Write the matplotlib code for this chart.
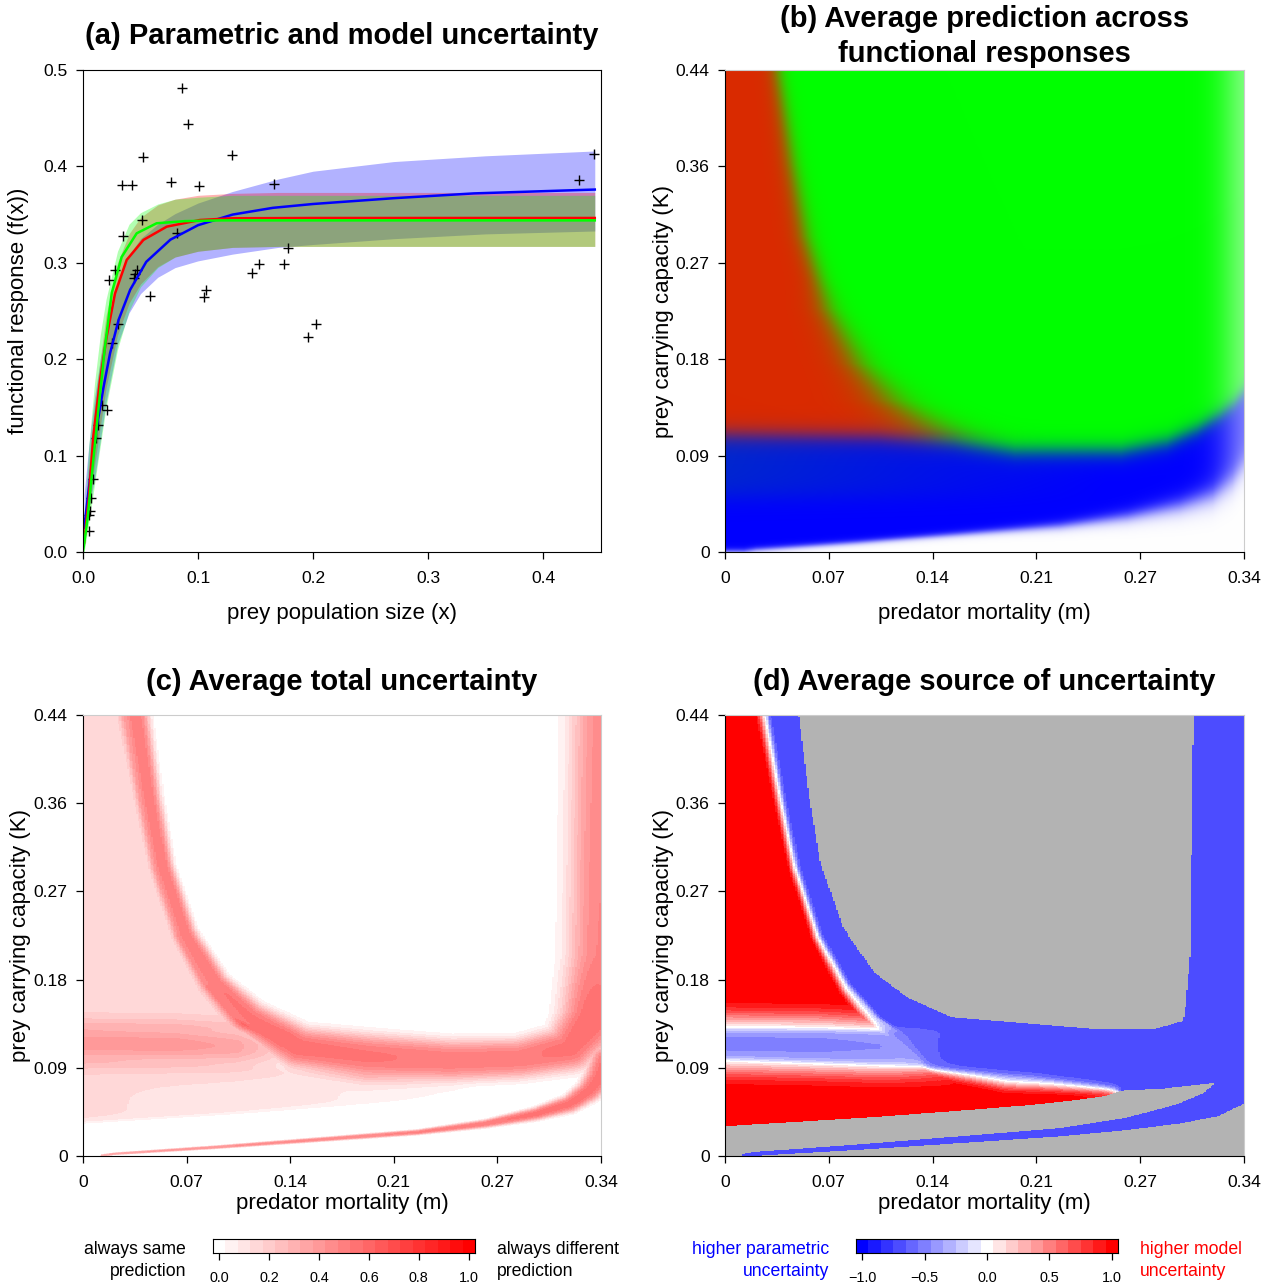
import numpy as np
import matplotlib
matplotlib.use('Agg')
import matplotlib.pyplot as plt
from matplotlib.colors import ListedColormap, BoundaryNorm

plt.rcParams['font.family'] = ['Liberation Sans', 'DejaVu Sans']

W, H = 1270, 1288

# ---------------- panel (a): data ----------------
obs_x = [0.0865, 0.0917, 0.0525, 0.1294, 0.0343, 0.0426, 0.0762, 0.1006, 0.1658, 0.4316,
         0.4446, 0.0512, 0.0814, 0.0347, 0.0278, 0.0227, 0.0467, 0.0455, 0.0445, 0.0584,
         0.0302, 0.0254, 0.0165, 0.0205, 0.0128, 0.0110, 0.0089, 0.0069, 0.0062, 0.0055,
         0.0055, 0.1466, 0.1528, 0.1744, 0.1785, 0.1054, 0.1071, 0.1957, 0.2029]
obs_y = [0.481, 0.444, 0.410, 0.412, 0.381, 0.381, 0.384, 0.380, 0.382, 0.386,
         0.413, 0.344, 0.331, 0.328, 0.293, 0.282, 0.293, 0.288, 0.284, 0.266,
         0.236, 0.217, 0.1526, 0.1474, 0.1316, 0.118, 0.0759, 0.0563, 0.0426, 0.0385,
         0.0222, 0.2896, 0.2989, 0.2989, 0.3156, 0.2644, 0.2722, 0.223, 0.236]

blue_x = [0.001, 0.004, 0.008, 0.012, 0.018, 0.0235, 0.031, 0.041, 0.055, 0.076, 0.10,
          0.13, 0.165, 0.2, 0.27, 0.34, 0.445]
blue_y = [0.025, 0.055, 0.095, 0.13, 0.172, 0.206, 0.241, 0.272, 0.301, 0.324, 0.339,
          0.35, 0.357, 0.361, 0.367, 0.372, 0.376]
red_x = [0.001, 0.005, 0.009, 0.0148, 0.0206, 0.0278, 0.038, 0.0525, 0.0728, 0.1017, 0.13, 0.2, 0.445]
red_y = [0.01, 0.055, 0.12, 0.178, 0.2234, 0.268, 0.303, 0.3237, 0.3375, 0.3444, 0.3462, 0.3465, 0.3465]
green_x = [0.0, 0.004, 0.0075, 0.0133, 0.0191, 0.025, 0.0336, 0.0467, 0.064, 0.0883, 0.12, 0.445]
green_y = [0.0, 0.035, 0.078, 0.147, 0.213, 0.2687, 0.306, 0.3306, 0.341, 0.3432, 0.344, 0.344]

band_x = [0.001, 0.005, 0.01, 0.015, 0.02, 0.03, 0.04, 0.05, 0.065, 0.08, 0.1, 0.13, 0.17,
          0.2, 0.27, 0.35, 0.445]
blue_lo = [0.015, 0.045, 0.075, 0.115, 0.155, 0.215, 0.248, 0.268, 0.285, 0.295, 0.302,
           0.309, 0.316, 0.319, 0.325, 0.33, 0.333]
blue_hi = [0.06, 0.11, 0.16, 0.2, 0.232, 0.28, 0.308, 0.325, 0.34, 0.351, 0.362, 0.374,
           0.387, 0.395, 0.405, 0.411, 0.416]
red_lo = [0.005, 0.04, 0.09, 0.13, 0.17, 0.225, 0.258, 0.278, 0.296, 0.306, 0.312, 0.316,
          0.317, 0.317, 0.317, 0.317, 0.317]
red_hi = [0.02, 0.09, 0.15, 0.2, 0.245, 0.3, 0.33, 0.347, 0.36, 0.366, 0.37, 0.372, 0.373,
          0.373, 0.373, 0.373, 0.373]
green_lo = [0.0, 0.03, 0.07, 0.11, 0.15, 0.21, 0.25, 0.275, 0.295, 0.306, 0.312, 0.316,
            0.317, 0.317, 0.317, 0.317, 0.317]
green_hi = [0.03, 0.11, 0.175, 0.225, 0.262, 0.312, 0.34, 0.352, 0.361, 0.366, 0.368, 0.37,
            0.37, 0.37, 0.37, 0.37, 0.37]

# ---------------- panels (b)-(d): structures ----------------
# main uncertainty ridge (left branch, bottom, right edge)
c1_m = [0.034, 0.0433, 0.052, 0.0667, 0.0867, 0.109, 0.142, 0.187, 0.242, 0.287, 0.32, 0.336, 0.344, 0.346]
c1_K = [0.44, 0.355, 0.288, 0.222, 0.172, 0.138, 0.108, 0.099, 0.095, 0.097, 0.107, 0.138, 0.2, 0.44]
c1_w = [0.026, 0.022, 0.02, 0.021, 0.026, 0.035, 0.045, 0.05, 0.046, 0.044, 0.05, 0.065, 0.074, 0.074]
c1_a = [0.42, 0.42, 0.42, 0.42, 0.43, 0.44, 0.45, 0.44, 0.42, 0.42, 0.45, 0.47, 0.40, 0.38]
# horizontal ridge at low mortality
h_m = [0.0, 0.06, 0.10, 0.14]
h_K = [0.112, 0.111, 0.109, 0.106]
h_w = [0.048, 0.048, 0.048, 0.048]
h_a = [0.30, 0.30, 0.26, 0.10]
# lower thin ridge
c2_m = [0.012, 0.02, 0.0867, 0.153, 0.22, 0.264, 0.298, 0.32, 0.333, 0.34, 0.345]
c2_K = [0.0, 0.0017, 0.0083, 0.0157, 0.0233, 0.0317, 0.0417, 0.0517, 0.065, 0.078, 0.095]
c2_w = [0.003, 0.003, 0.004, 0.005, 0.006, 0.009, 0.014, 0.019, 0.024, 0.03, 0.035]
c2_a = [0.25, 0.3, 0.35, 0.38, 0.4, 0.42, 0.45, 0.45, 0.45, 0.45, 0.45]
# model-uncertainty plateaus
m_up_level = 0.15
m_up_floor = 0.126
m_mid_level = 0.05
kl_m = [0.0, 0.1, 0.2, 0.25, 0.3]
kl_K = [0.033, 0.042, 0.053, 0.06, 0.068]
ku_m = [0.0, 0.1, 0.2, 0.26]
ku_K = [0.096, 0.09, 0.079, 0.068]
al_m = [0.0, 0.08, 0.16, 0.21, 0.245, 0.26]
al_v = [0.15, 0.13, 0.1, 0.07, 0.03, 0.0]
# panel (b) blue band top
kh_m = [0.0, 0.1, 0.15, 0.19, 0.26, 0.29, 0.31, 0.325, 0.334, 0.34]
kh_K = [0.107, 0.105, 0.1, 0.092, 0.092, 0.1, 0.112, 0.125, 0.135, 0.145]
rg_K = [0.1, 0.13, 0.17, 0.25, 0.44]
rg_e = [0.014, 0.01, 0.007, 0.004, 0.003]

m_ticks = ['0', '0.07', '0.14', '0.21', '0.27', '0.34']
K_ticks = ['0', '0.09', '0.18', '0.27', '0.36', '0.44']

# ---------------- build the fields ----------------
mm = np.linspace(0, 0.34, 341)
kk = np.linspace(0, 0.44, 441)
M, K = np.meshgrid(mm, kk)
U, V = M / 0.34, K / 0.44


def sig(x):
    return 0.5 * (1 + np.tanh(x / 2))


def ridge(pm, pK, pw, pa, p=3):
    pu = np.asarray(pm) / 0.34
    pv = np.asarray(pK) / 0.44
    out = np.zeros_like(U)
    for i in range(len(pu) - 1):
        du, dv = pu[i + 1] - pu[i], pv[i + 1] - pv[i]
        t = np.clip(((U - pu[i]) * du + (V - pv[i]) * dv) / (du * du + dv * dv), 0, 1)
        d = np.hypot(U - pu[i] - t * du, V - pv[i] - t * dv)
        w = pw[i] + t * (pw[i + 1] - pw[i])
        a = pa[i] + t * (pa[i + 1] - pa[i])
        out = np.maximum(out, a * np.exp(-(d / w) ** p))
    return out


P_h = ridge(h_m, h_K, h_w, h_a, p=2)
P = np.maximum(np.maximum(ridge(c1_m, c1_K, c1_w, c1_a), P_h), ridge(c2_m, c2_K, c2_w, c2_a))
mC1 = np.interp(K, c1_K[:7][::-1], c1_m[:7][::-1])
wC1 = np.interp(K, c1_K[:7][::-1], c1_w[:7][::-1]) * 0.34
M_up = m_up_level * sig((mC1 - 0.75 * wC1 - M) / 0.0008) * sig((K - m_up_floor) / 0.002)
M_low = (np.interp(M, al_m, al_v) * sig((K - np.interp(M, kl_m, kl_K)) / 0.0015)
         * sig((np.interp(M, ku_m, ku_K) - K) / 0.002))
M_mid = m_mid_level * sig((K - np.interp(M, ku_m, ku_K)) / 0.002) * sig((m_up_floor - K) / 0.002) \
    * sig((0.13 - M) / 0.008)
Mtot = M_up + M_low + M_mid + 0.21 * P
T = Mtot + P
S = (Mtot - P) / np.maximum(T, 1e-9)
S = np.ma.masked_where(T < 0.012, np.clip(S, -1, 0.999))
T = np.clip(T, 0, 0.999)

# panel (b) colours
red_c = np.array([218, 42, 0]) / 255
green_c = np.array([0, 255, 0]) / 255
blue_c = np.array([0, 0, 255]) / 255
dblue_c = np.array([0, 38, 208]) / 255
tb = (sig((K - 0.05) / 0.006) * np.clip(1 - M / 0.25, 0, 1))[..., None]
bcol = blue_c * (1 - tb) + dblue_c * tb
wb = sig((np.interp(M, kh_m, kh_K) - K) / 0.005)[..., None]
wr = sig((mC1 - M) / np.interp(K, rg_K, rg_e))[..., None]
base = wb * bcol + (1 - wb) * (wr * red_c + (1 - wr) * green_c)
f_low = sig((np.interp(M, c2_m, c2_K) - K) / (0.0015 + 0.006 * (M / 0.34) ** 4))
f_edge = 0.5 * np.exp(-((0.346 - M) / 0.02) ** 2)
f = (1 - (1 - f_low) * (1 - f_edge))[..., None]
rgb = np.clip(base * (1 - f) + f, 0, 1)

cols_c = [(1, 1 - i / 20, 1 - i / 20) for i in range(21)]
cmap_c = ListedColormap(cols_c)
norm_c = BoundaryNorm(np.linspace(0, 1, 22), 21)
cols_d = [(i / 10, i / 10, 1) for i in range(11)] + [(1, (20 - i) / 10, (20 - i) / 10) for i in range(11, 21)]
cmap_d = ListedColormap(cols_d)
cmap_d.set_bad('#b3b3b3')
norm_d = BoundaryNorm(np.linspace(-1, 1, 22), 21)

# ---------------- figure ----------------
fig = plt.figure(figsize=(W / 100, H / 100), dpi=100)


def box(l, t, r, b):
    return [l / W, 1 - b / H, (r - l) / W, (b - t) / H]


TICK = 12.6
LAB = 16


def style(ax, image=True):
    ax.tick_params(direction='out', length=5, width=0.9, labelsize=TICK)
    ax.tick_params(axis='x', pad=9)
    ax.tick_params(axis='y', pad=6)
    if image:
        for s in ('top', 'right'):
            ax.spines[s].set_color('#cccccc')
            ax.spines[s].set_linewidth(0.8)


ax_a = fig.add_axes(box(83, 70, 601, 552))
ax_b = fig.add_axes(box(725, 70, 1244, 552))
ax_c = fig.add_axes(box(83, 715, 601, 1156))
ax_d = fig.add_axes(box(725, 715, 1244, 1156))

# (a)
ax_a.fill_between(band_x, blue_lo, blue_hi, color=(0, 0, 1), alpha=0.3, lw=0)
ax_a.fill_between(band_x, red_lo, red_hi, color=(1, 0, 0), alpha=0.3, lw=0)
ax_a.fill_between(band_x, green_lo, green_hi, color=(0, 1, 0), alpha=0.3, lw=0)
ax_a.plot(obs_x, obs_y, '+', color='black', ms=6.5, mew=1.0)
ax_a.plot(blue_x, blue_y, color='blue', lw=1.8)
ax_a.plot(red_x, red_y, color='red', lw=1.8)
ax_a.plot(green_x, green_y, color=(0, 1, 0), lw=1.8)
ax_a.set_xlim(0, 0.4504)
ax_a.set_ylim(0, 0.5)
ax_a.set_xticks([0, 0.1, 0.2, 0.3, 0.4])
ax_a.set_xticklabels(['0.0', '0.1', '0.2', '0.3', '0.4'])
ax_a.set_yticks([0, 0.1, 0.2, 0.3, 0.4, 0.5])
ax_a.set_yticklabels(['0.0', '0.1', '0.2', '0.3', '0.4', '0.5'])
style(ax_a, image=False)
ax_a.set_xlabel('prey population size (x)', fontsize=LAB, va='center')
ax_a.xaxis.set_label_coords(0.5, -61 / 482)
ax_a.set_ylabel('functional response (f(x))', fontsize=LAB, va='center')
ax_a.yaxis.set_label_coords(-65 / 518, 0.5)

# (b)
ax_b.imshow(rgb, extent=[0, 0.34, 0, 0.44], origin='lower', aspect='auto', interpolation='bilinear')
# (c)
ax_c.imshow(T, extent=[0, 0.34, 0, 0.44], origin='lower', aspect='auto', cmap=cmap_c, norm=norm_c,
            interpolation='nearest')
# (d)
ax_d.imshow(S, extent=[0, 0.34, 0, 0.44], origin='lower', aspect='auto', cmap=cmap_d, norm=norm_d,
            interpolation='nearest')

for ax, xl_off, yl_off in ((ax_b, -61 / 482, -62 / 519), (ax_c, -47 / 441, -63 / 518),
                           (ax_d, -47 / 441, -62 / 519)):
    ax.set_xlim(0, 0.34)
    ax.set_ylim(0, 0.44)
    ax.set_xticks(np.linspace(0, 0.34, 6))
    ax.set_xticklabels(m_ticks)
    ax.set_yticks(np.linspace(0, 0.44, 6))
    ax.set_yticklabels(K_ticks)
    style(ax)
    ax.set_xlabel('predator mortality (m)', fontsize=LAB, va='center')
    ax.xaxis.set_label_coords(0.5, xl_off)
    ax.set_ylabel('prey carrying capacity (K)', fontsize=LAB, va='center')
    ax.yaxis.set_label_coords(yl_off, 0.5)

# titles
TT = 21
fig.text(342 / W, 1 - 36 / H, '(a) Parametric and model uncertainty', fontsize=TT, fontweight='bold',
         ha='center', va='center')
fig.text(984.5 / W, 1 - 36.5 / H, '(b) Average prediction across\nfunctional responses', fontsize=TT,
         fontweight='bold', ha='center', va='center', linespacing=1.3)
fig.text(342 / W, 1 - 682 / H, '(c) Average total uncertainty', fontsize=TT, fontweight='bold',
         ha='center', va='center')
fig.text(984.5 / W, 1 - 682 / H, '(d) Average source of uncertainty', fontsize=TT, fontweight='bold',
         ha='center', va='center')

# colour bars
CB = 10.4
cax_c = fig.add_axes(box(213, 1239, 475, 1253))
cax_c.imshow(np.arange(21)[None, :], cmap=cmap_c, vmin=0, vmax=20, aspect='auto',
             extent=[-0.025, 1.025, 0, 1], interpolation='nearest')
cax_c.set_xlim(-0.025, 1.025)
cax_c.set_yticks([])
cax_c.set_xticks([0, 0.2, 0.4, 0.6, 0.8, 1.0])
cax_c.set_xticklabels(['0.0', '0.2', '0.4', '0.6', '0.8', '1.0'])
cax_c.tick_params(direction='out', length=5, width=0.9, labelsize=CB, pad=8)

cax_d = fig.add_axes(box(856, 1239, 1118, 1253))
cax_d.imshow(np.arange(21)[None, :], cmap=cmap_d, vmin=0, vmax=20, aspect='auto',
             extent=[-1.05, 1.05, 0, 1], interpolation='nearest')
cax_d.set_xlim(-1.05, 1.05)
cax_d.set_yticks([])
cax_d.set_xticks([-1, -0.5, 0, 0.5, 1.0])
cax_d.set_xticklabels(['\u22121.0', '\u22120.5', '0.0', '0.5', '1.0'])
cax_d.tick_params(direction='out', length=5, width=0.9, labelsize=CB, pad=8)

LT = 12.7
fig.text(186 / W, 1 - 1249 / H, 'always same', fontsize=LT, ha='right', va='center')
fig.text(186 / W, 1 - 1271 / H, 'prediction', fontsize=LT, ha='right', va='center')
fig.text(497 / W, 1 - 1249 / H, 'always different', fontsize=LT, ha='left', va='center')
fig.text(497 / W, 1 - 1271 / H, 'prediction', fontsize=LT, ha='left', va='center')
fig.text(829 / W, 1 - 1249 / H, 'higher parametric', fontsize=LT, ha='right', va='center', color='blue')
fig.text(829 / W, 1 - 1272 / H, 'uncertainty', fontsize=LT, ha='right', va='center', color='blue')
fig.text(1140 / W, 1 - 1249 / H, 'higher model', fontsize=LT, ha='left', va='center', color='red')
fig.text(1140 / W, 1 - 1272 / H, 'uncertainty', fontsize=LT, ha='left', va='center', color='red')

fig.savefig('out.png', dpi=100)
